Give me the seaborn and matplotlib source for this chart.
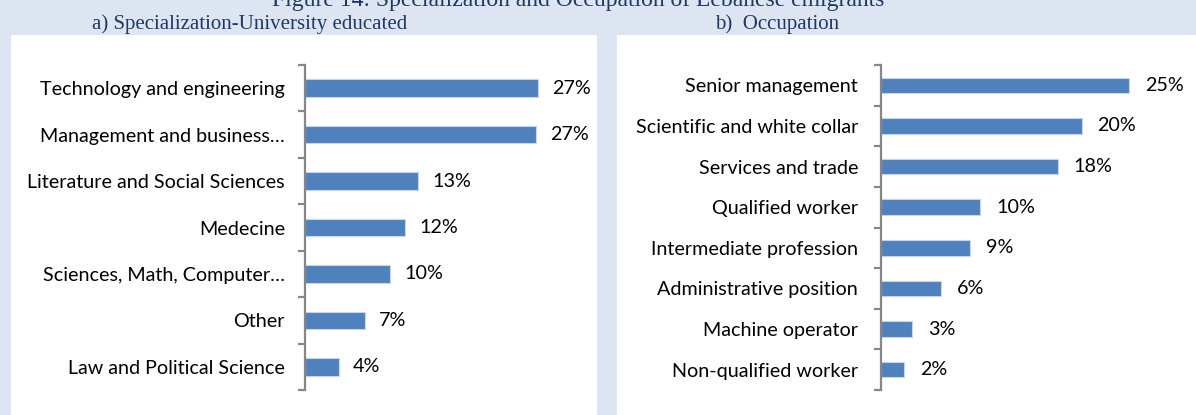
import numpy as np
import pandas as pd
import matplotlib
matplotlib.use("Agg")
import matplotlib.pyplot as plt
from matplotlib.patches import Rectangle
import seaborn as sns

# panel a) specialization of university educated emigrants
spec_labels = ["Technology and engineering", "Management and business\u2026",
               "Literature and Social Sciences", "Medecine",
               "Sciences, Math, Computer\u2026", "Other", "Law and Political Science"]
spec_values = [27.0, 26.8, 13.1, 11.6, 9.9, 7.0, 3.9]

# panel b) occupation
occ_labels = ["Senior management", "Scientific and white collar", "Services and trade",
              "Qualified worker", "Intermediate profession", "Administrative position",
              "Machine operator", "Non-qualified worker"]
occ_values = [25.0, 20.2, 17.8, 10.0, 9.0, 6.0, 3.1, 2.3]

BG = "#dce5f1"
BAR = "#4f81bd"
SPINE = "#868686"
NAVY = "#1f3864"
FS = 14.2

sns.set_style("white")
plt.rcParams["font.family"] = ["Lato", "DejaVu Sans"]

W, H = 1196, 415
fig = plt.figure(figsize=(W / 100, H / 100), dpi=100, facecolor=BG)

# white panels behind the two charts
fig.patches.append(Rectangle((11 / W, 0), 586 / W, 380 / H, transform=fig.transFigure,
                             facecolor="white", edgecolor="none", zorder=-5))
fig.patches.append(Rectangle((617 / W, 0), (W - 617) / W, 380 / H, transform=fig.transFigure,
                             facecolor="white", edgecolor="none", zorder=-5))

bottom = 1 - 390 / H
height = (390 - 65) / H


def draw(ax, labels, values, xmax, pad, lpad):
    df = pd.DataFrame({"cat": labels, "val": values})
    sns.barplot(data=df, y="cat", x="val", orient="h", color=BAR, width=0.38,
                edgecolor="#c5d6ee", linewidth=0.8, saturation=1, ax=ax)
    ax.set_xlim(0, xmax)
    ax.set_facecolor("none")
    ax.set_xlabel("")
    ax.set_ylabel("")
    ax.set_xticks([])
    for s in ["top", "right", "bottom"]:
        ax.spines[s].set_visible(False)
    ax.spines["left"].set_color(SPINE)
    ax.spines["left"].set_linewidth(1.6)
    n = len(labels)
    ax.set_yticks(np.arange(-0.5, n), minor=True)
    ax.tick_params(axis="y", which="major", left=True, length=0, pad=pad,
                   labelsize=FS, labelcolor="black")
    ax.tick_params(axis="y", which="minor", left=True, length=5, width=1.6,
                   color=SPINE, direction="out")
    ax.bar_label(ax.containers[0], labels=[f"{v:.0f}%" for v in values],
                 padding=lpad, fontsize=FS, color="black")


ax1 = fig.add_axes([305 / W, bottom, 8.63 * 30 / W, height])
draw(ax1, spec_labels, spec_values, 30, 14.4, 10)

ax2 = fig.add_axes([881 / W, bottom, 9.93 * 28 / W, height])
draw(ax2, occ_labels, occ_values, 28, 16.5, 11.5)

serif = ["Liberation Serif", "DejaVu Serif"]
fig.text(578 / W, 1 - 6 / H, "Figure 14: Specialization and Occupation of Lebanese emigrants",
         ha="center", va="baseline", fontsize=17, family=serif, color=NAVY)
fig.text(250 / W, 1 - 29 / H, "a) Specialization-University educated",
         ha="center", va="baseline", fontsize=15, family=serif, color=NAVY)
fig.text(777 / W, 1 - 29 / H, "b)  Occupation",
         ha="center", va="baseline", fontsize=15, family=serif, color=NAVY)

fig.savefig("out.png", dpi=100, facecolor=BG)
